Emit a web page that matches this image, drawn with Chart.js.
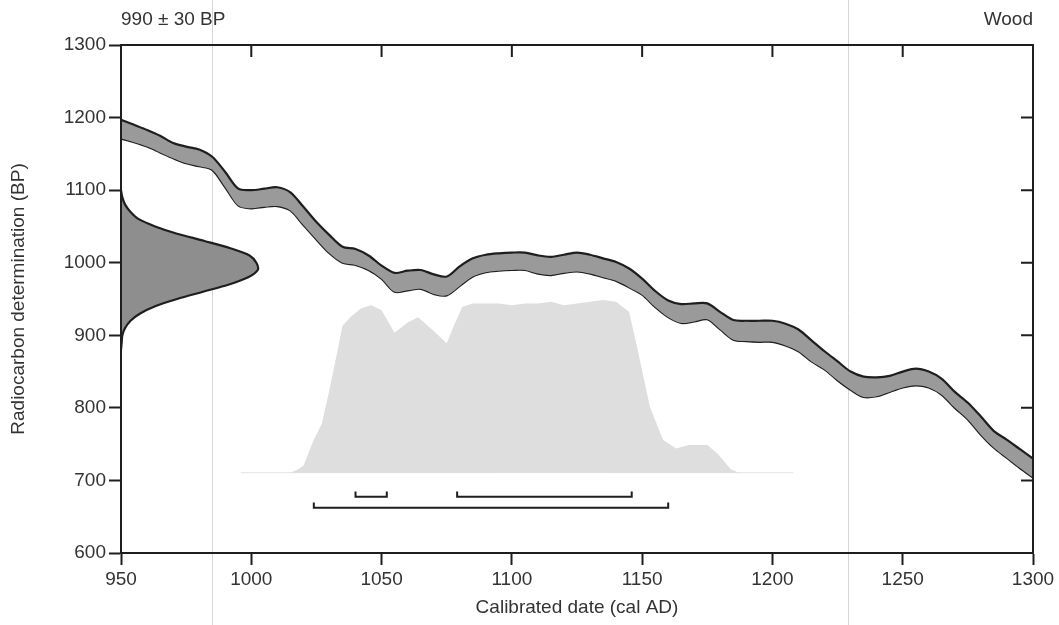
<!DOCTYPE html>
<html>
<head>
<meta charset="utf-8">
<script src="https://cdn.jsdelivr.net/npm/chart.js@4.4.0/dist/chart.umd.min.js"></script>
<style>
  html, body { margin: 0; padding: 0; background: #fff; }
  #wrap { width: 1059px; height: 625px; }
</style>
</head>
<body>
<div id="wrap"><canvas id="c"></canvas></div>
<script>
// Calibration curve: upper and lower edge of the band (BP)
const calYears = [950, 955, 960, 965, 970, 975, 980, 985, 990, 995,
  1000, 1005, 1010, 1015, 1020, 1025, 1030, 1035, 1040, 1045,
  1050, 1055, 1060, 1065, 1070, 1075, 1080, 1085, 1090, 1095,
  1100, 1105, 1110, 1115, 1120, 1125, 1130, 1135, 1140, 1145,
  1150, 1155, 1160, 1165, 1170, 1175, 1180, 1185, 1190, 1195,
  1200, 1205, 1210, 1215, 1220, 1225, 1230, 1235, 1240, 1245,
  1250, 1255, 1260, 1265, 1270, 1275, 1280, 1285, 1290, 1295, 1300];
const calUpper = [1197, 1190, 1183, 1175, 1165, 1160, 1156, 1146, 1125, 1102,
  1100, 1102, 1104, 1097, 1077, 1056, 1038, 1022, 1019, 1010,
  996, 986, 989, 990, 984, 981, 995, 1006, 1011, 1013,
  1014, 1014, 1010, 1008, 1011, 1014, 1011, 1006, 1001, 992,
  978, 961, 948, 943, 944, 944, 932, 921, 920, 920,
  920, 916, 908, 893, 878, 864, 850, 843, 842, 844,
  850, 854, 850, 840, 822, 807, 788, 768, 756, 743, 730];
const calLower = [1171, 1166, 1160, 1152, 1144, 1137, 1133, 1128, 1104, 1079,
  1075, 1077, 1078, 1072, 1052, 1032, 1013, 1000, 997, 990,
  978, 960, 962, 964, 957, 955, 968, 981, 987, 989,
  990, 990, 985, 983, 986, 988, 985, 980, 975, 966,
  956, 939, 925, 917, 919, 922, 908, 894, 892, 891,
  891, 886, 878, 864, 853, 838, 825, 815, 816, 822,
  828, 831, 828, 818, 800, 784, 763, 745, 731, 717, 704];

// Radiocarbon measurement 990 ± 30 BP, drawn along the y axis (relative density)
const measBP = [1100, 1090, 1080, 1070, 1060, 1050, 1040, 1030, 1020, 1010, 1000, 990,
  980, 970, 960, 950, 940, 930, 920, 910, 900, 890, 880];
const measDensity = [0, 0.01, 0.03, 0.07, 0.13, 0.25, 0.41, 0.61, 0.8, 0.94, 0.99, 1,
  0.93, 0.79, 0.6, 0.41, 0.25, 0.14, 0.07, 0.03, 0.01, 0.005, 0];

// Calibrated date distribution (relative probability)
const probYears = [1015, 1018, 1020, 1024, 1027, 1030, 1033, 1035, 1038, 1042,
  1046, 1050, 1055, 1060, 1064, 1070, 1075, 1078, 1081, 1085,
  1090, 1095, 1100, 1105, 1110, 1115, 1120, 1125, 1130, 1135,
  1140, 1145, 1148, 1153, 1158, 1163, 1168, 1175, 1179, 1184, 1187];
const probValues = [0, 0.02, 0.04, 0.19, 0.28, 0.48, 0.7, 0.85, 0.9, 0.95,
  0.97, 0.94, 0.81, 0.87, 0.9, 0.82, 0.75, 0.86, 0.96, 0.98,
  0.98, 0.98, 0.97, 0.98, 0.98, 0.99, 0.97, 0.98, 0.99, 1,
  0.99, 0.93, 0.73, 0.38, 0.19, 0.14, 0.16, 0.16, 0.11, 0.02, 0];
const probBaseYears = [996, 1208];

// 68.2% and 95.4% ranges (cal AD)
const range68 = [[1040, 1052], [1079, 1146]];
const range95 = [[1024, 1160]];

const xTickValues = [950, 1000, 1050, 1100, 1150, 1200, 1250, 1300];
const yTickValues = [600, 700, 800, 900, 1000, 1100, 1200, 1300];
const scanLines = [985, 1229];

const LEFT_LABEL = '990 ± 30 BP';
const RIGHT_LABEL = 'Wood';
const X_TITLE = 'Calibrated date (cal AD)';
const Y_TITLE = 'Radiocarbon determination (BP)';

const FAMILY = "'Liberation Sans', Arial, sans-serif";
const INK = '#1e1e1e';
const TEXT = '#333';

const pts = (xs, ys) => xs.map((x, i) => ({ x, y: ys[i] }));

function bracket([a, b], level) {
  const up = level + 0.03;
  return {
    data: [{ x: a, y: up }, { x: a, y: level }, { x: b, y: level }, { x: b, y: up }],
    xAxisID: 'x',
    yAxisID: 'y2',
    borderColor: INK,
    borderWidth: 2,
    pointRadius: 0,
    fill: false,
    tension: 0,
    order: 0,
  };
}

const frame = {
  id: 'frame',
  beforeDatasetsDraw(chart) {
    const { ctx, scales: { x } } = chart;
    ctx.save();
    ctx.strokeStyle = '#d6d6d6';
    ctx.lineWidth = 1;
    scanLines.forEach((v) => {
      const px = Math.round(x.getPixelForValue(v)) + 0.5;
      ctx.beginPath();
      ctx.moveTo(px, 0);
      ctx.lineTo(px, chart.height);
      ctx.stroke();
    });
    ctx.restore();
  },
  afterDraw(chart) {
    const { ctx, chartArea: a, scales: { x, y } } = chart;
    ctx.save();
    ctx.strokeStyle = INK;
    ctx.lineWidth = 2;
    ctx.strokeRect(a.left, a.top, a.right - a.left, a.bottom - a.top);
    ctx.beginPath();
    xTickValues.forEach((v) => {
      const px = x.getPixelForValue(v);
      ctx.moveTo(px, a.top);
      ctx.lineTo(px, a.top + 12);
    });
    yTickValues.forEach((v) => {
      const py = y.getPixelForValue(v);
      ctx.moveTo(a.right, py);
      ctx.lineTo(a.right - 12, py);
    });
    ctx.stroke();
    ctx.fillStyle = TEXT;
    ctx.font = `19px ${FAMILY}`;
    ctx.textBaseline = 'alphabetic';
    ctx.textAlign = 'left';
    ctx.fillText(LEFT_LABEL, a.left, 25);
    ctx.textAlign = 'right';
    ctx.fillText(RIGHT_LABEL, a.right, 25);
    ctx.restore();
  },
};

const axisCommon = {
  type: 'linear',
  grid: { drawOnChartArea: false, drawTicks: true, tickLength: 12, tickColor: INK, tickWidth: 2 },
  border: { display: true, color: INK, width: 2 },
  ticks: {
    color: TEXT,
    font: { size: 19, family: FAMILY },
    padding: 3,
    maxRotation: 0,
    callback: (v) => String(v),
  },
};

new Chart(document.getElementById('c'), {
  type: 'line',
  data: {
    datasets: [
      {
        data: pts(calYears, calUpper),
        xAxisID: 'x',
        yAxisID: 'y',
        borderColor: INK,
        borderWidth: 2.2,
        backgroundColor: '#9a9a9a',
        fill: '+1',
        pointRadius: 0,
        tension: 0.3,
        order: 1,
      },
      {
        data: pts(calYears, calLower),
        xAxisID: 'x',
        yAxisID: 'y',
        borderColor: INK,
        borderWidth: 2.2,
        fill: false,
        pointRadius: 0,
        tension: 0.3,
        order: 1,
      },
      {
        data: pts(measDensity, measBP),
        indexAxis: 'y',
        xAxisID: 'x2',
        yAxisID: 'y',
        borderColor: INK,
        borderWidth: 2.2,
        backgroundColor: '#8e8e8e',
        fill: 'origin',
        pointRadius: 0,
        tension: 0.3,
        order: 0,
      },
      {
        data: pts(probYears, probValues),
        xAxisID: 'x',
        yAxisID: 'y2',
        borderWidth: 0,
        borderColor: 'rgba(0,0,0,0)',
        backgroundColor: '#dedede',
        fill: 'origin',
        pointRadius: 0,
        tension: 0,
        order: 5,
      },
      {
        data: probBaseYears.map((x) => ({ x, y: 0 })),
        xAxisID: 'x',
        yAxisID: 'y2',
        borderWidth: 1,
        borderColor: '#e4e4e4',
        fill: false,
        pointRadius: 0,
        order: 6,
      },
      ...range68.map((r) => bracket(r, -0.139)),
      ...range95.map((r) => bracket(r, -0.203)),
    ],
  },
  options: {
    responsive: true,
    maintainAspectRatio: false,
    animation: false,
    events: [],
    layout: { padding: { top: 45, right: 26, left: 0, bottom: 0 } },
    plugins: { legend: { display: false }, tooltip: { enabled: false } },
    scales: {
      x: {
        ...axisCommon,
        position: 'bottom',
        min: 950,
        max: 1300,
        afterBuildTicks: (s) => { s.ticks = xTickValues.map((value) => ({ value })); },
        afterFit: (s) => { s.height = 72; },
        title: { display: true, text: X_TITLE, color: TEXT, font: { size: 19, family: FAMILY }, padding: { top: 0, bottom: 6 } },
      },
      y: {
        ...axisCommon,
        position: 'left',
        min: 600,
        max: 1300,
        afterBuildTicks: (s) => { s.ticks = yTickValues.map((value) => ({ value })); },
        afterFit: (s) => { s.width = 121; },
        title: { display: true, text: Y_TITLE, color: TEXT, font: { size: 19, family: FAMILY }, padding: { top: 7, bottom: 0 } },
      },
      x2: { type: 'linear', display: false, min: 0, max: 6.67 },
      y2: { type: 'linear', display: false, min: -0.465, max: 2.476 },
    },
  },
  plugins: [frame],
});
</script>
</body>
</html>
